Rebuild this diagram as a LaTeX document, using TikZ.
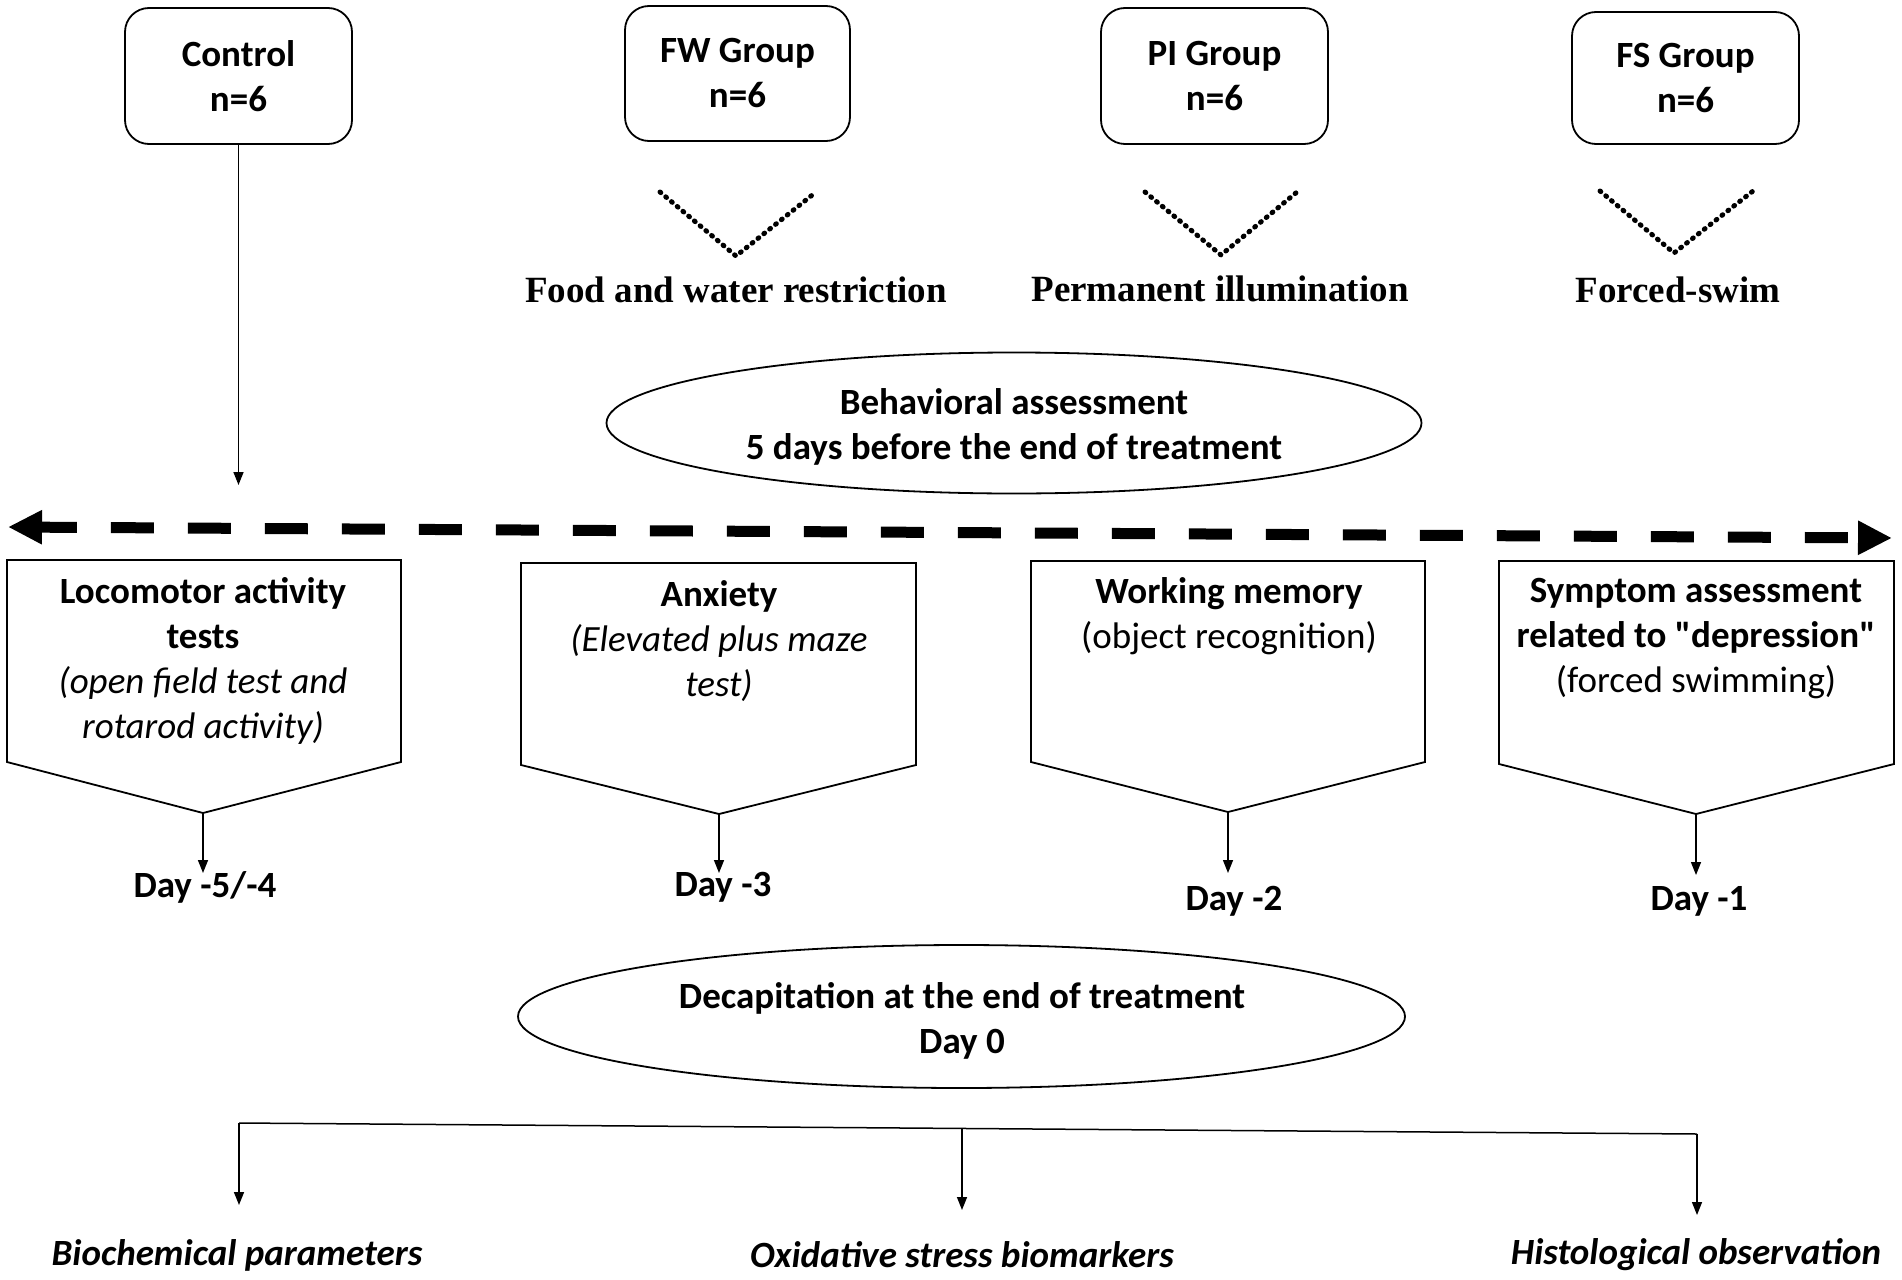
\documentclass[tikz,border=0pt]{standalone}
\usepackage{fontspec}
\setmainfont{Carlito}[Ligatures=TeXOff]
\newfontfamily\tnr{Liberation Serif}
\usetikzlibrary{shapes.geometric,arrows.meta}
\newcommand\fsz{\fontsize{37}{45}\selectfont}
\begin{document}
\begin{tikzpicture}[x=1pt,y=-1pt,
  grp/.style={draw,line width=1.8pt,rounded corners=24pt,minimum width=227pt,minimum height=136pt,align=center,font=\fsz\bfseries,inner sep=0pt},
  ell/.style={draw,ellipse,line width=1.8pt,inner sep=0pt},
  serlab/.style={font=\fsz\tnr\bfseries,inner sep=0pt},
  dots/.style={line width=5pt,dash pattern=on 1pt off 6.5pt},
  pent/.style={draw,line width=1.8pt},
  txt/.style={align=center,font=\fsz,inner sep=0pt},
  day/.style={font=\fsz\bfseries,inner sep=0pt},
  res/.style={font=\fsz\bfseries\itshape,inner sep=0pt},
  arr/.style={line width=1.5pt,-{Triangle[length=13pt,width=10pt]}},
  thinline/.style={line width=1.5pt}
]
\useasboundingbox (0,0) rectangle (1902,1279);

% group boxes
\node[grp] (ctrl) at (238.5,76) {Control\\n=6};
\node[grp,minimum width=225pt,minimum height=135pt] (fw) at (737.5,73.5) {FW Group\\n=6};
\node[grp] (pi) at (1214.5,76) {PI Group\\n=6};
\node[grp,minimum height=132pt] (fs) at (1685.5,78) {FS Group\\n=6};

% dotted V marks
\draw[dots,line cap=round] (660,192) -- (736,256) -- (816,192);
\draw[dots,line cap=round] (1145,192) -- (1221,255) -- (1297,192);
\draw[dots,line cap=round] (1600,191) -- (1674,253) -- (1753,191);

% treatment labels
\node[serlab] (fwl) at (736,290) {Food and water restriction};
\node[serlab] (pil) at (1220,289) {Permanent illumination};
\node[serlab] (fsl) at (1678,290) {Forced-swim};

% control arrow
\coordinate (ctrlend) at (238.5,485);
\draw[arr] (ctrl.south) -- (ctrlend);

% behavioral ellipse
\node[ell,minimum width=815pt,minimum height=141pt] (beh) at (1014,423) {};
\node[txt,font=\fsz\bfseries] (behtxt) at (1014,426.5) {Behavioral assessment\\5 days before the end of treatment};

% timeline
\coordinate (tl) at (8,527);
\coordinate (tr) at (1892,538);
\draw[line width=11pt,dash pattern=on 43pt off 34pt,dash phase=6pt,{Triangle[length=34pt,width=32pt]}-{Triangle[length=34pt,width=32pt]}] (tl) -- (tr);

% pentagon boxes
\draw[pent] (7,560) -- (401,560) -- (401,762) -- (203,813) -- (7,762) -- cycle;
\draw[pent] (521,563) -- (916,563) -- (916,765) -- (719,814) -- (521,765) -- cycle;
\draw[pent] (1031,561) -- (1425,561) -- (1425,762) -- (1228,812) -- (1031,762) -- cycle;
\draw[pent] (1499,561) -- (1894,561) -- (1894,764) -- (1696,814) -- (1499,764) -- cycle;
\coordinate (t1) at (203,813);
\coordinate (t2) at (719,814);
\coordinate (t3) at (1228,812);
\coordinate (t4) at (1696,814);

\node[txt] (b1) at (203,661) {{\bfseries Locomotor activity}\\{\bfseries tests}\\{\itshape (open field test and}\\{\itshape rotarod activity)}};
\node[txt] (b2) at (719,641) {{\bfseries Anxiety}\\{\itshape (Elevated plus maze}\\{\itshape test)}};
\node[txt] (b3) at (1229,616.5) {{\bfseries Working memory}\\(object recognition)};
\node[txt] (b4) at (1696,639) {{\bfseries Symptom assessment}\\{\bfseries related to "depression"}\\(forced swimming)};

% day labels
\node[day] (d1) at (205,887) {Day -5/-4};
\node[day] (d2) at (723,887) {Day -3};
\node[day] (d3) at (1234,901) {Day -2};
\node[day] (d4) at (1699,901) {Day -1};
\coordinate (e1) at (203,873);
\coordinate (e2) at (719,873);
\coordinate (e3) at (1228,873);
\coordinate (e4) at (1696,875);
\draw[arr] (t1) -- (e1);
\draw[arr] (t2) -- (e2);
\draw[arr] (t3) -- (e3);
\draw[arr] (t4) -- (e4);

% decapitation ellipse
\node[ell,minimum width=887pt,minimum height=143pt] (dec) at (961.5,1016.5) {};
\node[txt,font=\fsz\bfseries] (dectxt) at (962,1020.5) {Decapitation at the end of treatment\\Day 0};

% bracket
\coordinate (bl) at (239,1123);
\coordinate (bm) at (962,1128.5);
\coordinate (br) at (1697,1134);
\draw[thinline] (bl) -- (br);
\coordinate (el) at (239,1205);
\coordinate (em) at (962,1210);
\coordinate (er) at (1697,1215);
\draw[arr] (bl) -- (el);
\draw[arr] (bm) -- (em);
\draw[arr] (br) -- (er);

% results
\node[res] (bio) at (237,1255) {Biochemical parameters};
\node[res] (oxi) at (962,1255) {Oxidative stress biomarkers};
\node[res] (his) at (1696,1255) {Histological observation};
\end{tikzpicture}
\end{document}
